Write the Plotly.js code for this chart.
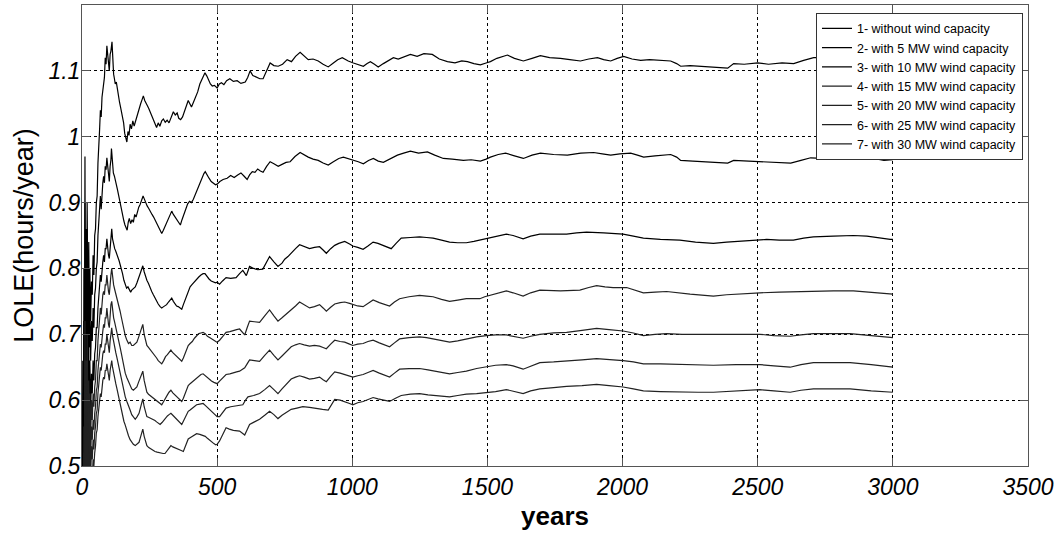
<!DOCTYPE html>
<html><head><meta charset="utf-8">
<script src="https://cdn.plot.ly/plotly-3.0.1.min.js"></script>
<style>html,body{margin:0;padding:0;background:#fff}#chart{width:1054px;height:539px}</style>
</head><body><div id="chart"></div>
<script>
const seriesNames = ["1- without wind capacity","2- with 5 MW wind capacity","3- with 10 MW wind capacity","4- with 15 MW wind capacity","5- with 20 MW wind capacity","6- with 25 MW wind capacity","7- with 30 MW wind capacity"];
const xTicks = [0,500,1000,1500,2000,2500,3000,3500];
const yTicks = [0.5,0.6,0.7,0.8,0.9,1,1.1];
const yTickText = ["0.5","0.6","0.7","0.8","0.9","1","1.1"];

const x1 = [1,3,5,7,9,11,13,15,17,19,21,23,25,27,29,32,35,38,41,44,47,50,53,56,59,62,65,68,71,74,77,80,83,86,89,92,95,98,101,104,107,111,114,117,120,123,127,131,135,139,143,147,151,154,158,162,166,170,174,178,183,188,193,197,202,207,212,217,222,227,232,237,242,247,252,258,264,270,276,282,288,295,301,308,315,322,330,338,345,352,358,365,372,380,387,393,399,405,412,420,428,436,442,449,455,462,468,475,482,490,500,508,516,525,535,547,560,574,588,604,613,622,632,645,658,670,680,689,696,710,726,742,759,775,790,807,822,837,855,874,892,911,930,946,963,985,1004,1022,1041,1055,1067,1082,1096,1115,1135,1152,1170,1192,1215,1240,1265,1296,1322,1352,1380,1405,1426,1450,1474,1495,1511,1535,1555,1574,1600,1633,1665,1696,1730,1770,1805,1844,1875,1907,1930,1956,1980,2004,2035,2067,2100,2140,2178,2200,2215,2250,2289,2340,2389,2411,2450,2500,2540,2590,2633,2670,2707,2741,2780,2830,2880,2930,2970,3000];
const y1 = [0.45,0.66,0.42,0.80,0.58,0.97,0.62,0.86,0.70,0.90,0.78,0.68,0.84,0.74,0.80,0.72,0.78,0.76,0.82,0.79,0.85,0.86,0.90,0.91,0.96,1.00,1.01,1.04,1.03,1.06,1.07,1.08,1.09,1.12,1.11,1.138,1.12,1.105,1.10,1.125,1.13,1.144,1.115,1.095,1.088,1.080,1.083,1.070,1.065,1.052,1.044,1.036,1.028,1.021,1.005,1.000,0.992,1.008,1.002,1.019,1.012,1.024,1.016,1.022,1.030,1.035,1.045,1.050,1.056,1.062,1.055,1.052,1.047,1.043,1.038,1.033,1.026,1.020,1.014,1.021,1.016,1.024,1.027,1.022,1.025,1.021,1.030,1.038,1.033,1.036,1.028,1.026,1.030,1.040,1.048,1.055,1.050,1.045,1.052,1.060,1.068,1.080,1.085,1.090,1.097,1.092,1.085,1.080,1.077,1.078,1.074,1.080,1.082,1.079,1.085,1.088,1.084,1.085,1.081,1.083,1.090,1.100,1.093,1.091,1.088,1.088,1.098,1.105,1.112,1.108,1.107,1.110,1.117,1.114,1.122,1.128,1.122,1.117,1.118,1.115,1.110,1.106,1.112,1.117,1.120,1.115,1.112,1.109,1.107,1.111,1.114,1.110,1.106,1.111,1.116,1.120,1.118,1.122,1.125,1.122,1.126,1.125,1.118,1.114,1.112,1.115,1.114,1.111,1.109,1.112,1.114,1.119,1.121,1.124,1.119,1.115,1.119,1.123,1.120,1.119,1.117,1.115,1.118,1.120,1.117,1.115,1.119,1.122,1.118,1.116,1.117,1.116,1.115,1.111,1.107,1.108,1.107,1.105,1.104,1.111,1.110,1.112,1.110,1.112,1.111,1.116,1.120,1.120,1.122,1.121,1.123,1.121,1.122,1.121];

const x2 = [1,3,5,7,9,11,13,15,17,19,21,23,25,27,29,32,35,38,41,44,47,50,53,56,59,62,65,68,71,74,77,80,83,86,89,92,95,98,101,104,107,109,112,116,120,123,127,131,135,139,143,147,151,155,159,163,167,171,175,180,185,190,195,200,205,210,215,220,226,230,235,241,247,253,259,265,271,277,283,289,295,301,307,313,319,325,332,338,345,352,358,364,370,377,384,391,398,405,412,420,428,436,444,451,456,462,470,478,486,494,500,510,522,537,550,563,576,588,600,611,620,630,640,650,660,670,683,696,710,726,740,755,770,788,807,822,837,855,874,892,911,930,950,967,985,1004,1022,1041,1060,1078,1096,1115,1140,1167,1190,1215,1245,1278,1305,1337,1370,1411,1440,1474,1495,1511,1540,1567,1600,1633,1665,1696,1745,1796,1845,1893,1925,1956,1990,2030,2055,2078,2120,2178,2200,2215,2260,2300,2350,2389,2411,2460,2520,2570,2622,2660,2696,2740,2790,2840,2881,2920,2967,3000];
const y2 = [0.40,0.60,0.38,0.72,0.52,0.90,0.56,0.80,0.64,0.86,0.70,0.62,0.76,0.68,0.74,0.66,0.72,0.69,0.74,0.71,0.76,0.77,0.80,0.81,0.85,0.87,0.88,0.91,0.89,0.92,0.93,0.94,0.93,0.955,0.95,0.968,0.955,0.94,0.932,0.955,0.965,0.982,0.962,0.945,0.940,0.935,0.930,0.920,0.912,0.903,0.895,0.886,0.880,0.872,0.866,0.860,0.858,0.870,0.876,0.868,0.874,0.870,0.882,0.878,0.886,0.893,0.897,0.902,0.910,0.906,0.900,0.895,0.891,0.885,0.882,0.878,0.873,0.869,0.864,0.860,0.853,0.858,0.864,0.868,0.874,0.880,0.887,0.882,0.878,0.874,0.870,0.866,0.874,0.882,0.893,0.898,0.902,0.900,0.905,0.913,0.922,0.930,0.938,0.944,0.947,0.942,0.937,0.932,0.930,0.927,0.928,0.932,0.935,0.937,0.941,0.938,0.942,0.945,0.940,0.935,0.942,0.947,0.946,0.951,0.948,0.946,0.955,0.962,0.959,0.955,0.958,0.961,0.962,0.970,0.976,0.972,0.969,0.966,0.964,0.960,0.957,0.962,0.967,0.969,0.967,0.964,0.962,0.959,0.964,0.967,0.963,0.961,0.966,0.972,0.975,0.978,0.975,0.977,0.972,0.967,0.966,0.964,0.965,0.963,0.966,0.969,0.973,0.975,0.971,0.967,0.972,0.975,0.973,0.972,0.975,0.976,0.974,0.972,0.974,0.975,0.972,0.969,0.971,0.973,0.969,0.964,0.963,0.962,0.961,0.960,0.964,0.963,0.962,0.961,0.960,0.964,0.968,0.967,0.968,0.969,0.970,0.968,0.964,0.965];

const x3 = [1,3,5,7,9,11,13,15,17,19,21,23,25,27,29,32,35,38,41,44,47,50,53,56,59,62,65,68,71,74,77,80,83,86,89,92,95,98,101,104,107,110,113,117,121,125,129,133,137,141,145,150,155,160,165,170,175,180,184,190,197,203,209,215,220,225,230,235,240,246,252,258,264,270,276,282,289,295,302,308,313,320,326,332,338,344,350,356,362,369,375,381,387,393,400,406,412,418,424,432,440,448,455,462,470,478,486,494,500,509,520,533,550,570,583,595,608,620,635,650,669,682,694,710,725,740,750,762,775,790,805,822,842,860,879,892,904,920,935,950,972,990,1002,1020,1040,1058,1077,1095,1114,1130,1144,1162,1181,1215,1249,1275,1299,1330,1360,1390,1422,1450,1472,1490,1509,1540,1570,1595,1632,1660,1694,1740,1793,1830,1867,1930,2002,2040,2077,2140,2212,2270,2336,2385,2435,2485,2533,2580,2632,2670,2706,2780,2854,2904,2950,2990,3000];
const y3 = [0.35,0.52,0.33,0.62,0.46,0.80,0.50,0.72,0.56,0.76,0.62,0.55,0.68,0.60,0.66,0.58,0.64,0.61,0.66,0.63,0.67,0.68,0.71,0.71,0.74,0.76,0.77,0.79,0.78,0.80,0.81,0.82,0.81,0.83,0.83,0.845,0.83,0.82,0.815,0.835,0.845,0.860,0.845,0.835,0.830,0.826,0.822,0.818,0.812,0.806,0.801,0.792,0.782,0.775,0.770,0.772,0.768,0.764,0.767,0.770,0.772,0.778,0.784,0.792,0.798,0.804,0.795,0.788,0.782,0.777,0.770,0.765,0.760,0.755,0.750,0.746,0.742,0.740,0.742,0.744,0.745,0.749,0.752,0.755,0.750,0.746,0.743,0.742,0.740,0.738,0.745,0.752,0.760,0.767,0.772,0.775,0.778,0.781,0.784,0.787,0.790,0.792,0.792,0.788,0.784,0.781,0.779,0.778,0.779,0.776,0.781,0.786,0.785,0.786,0.792,0.797,0.789,0.803,0.800,0.798,0.799,0.810,0.818,0.810,0.803,0.808,0.814,0.818,0.824,0.830,0.836,0.833,0.830,0.832,0.833,0.828,0.823,0.830,0.835,0.838,0.841,0.837,0.834,0.832,0.829,0.834,0.840,0.838,0.835,0.832,0.830,0.838,0.846,0.847,0.848,0.847,0.846,0.843,0.840,0.839,0.839,0.841,0.843,0.845,0.846,0.849,0.852,0.850,0.845,0.849,0.852,0.852,0.852,0.854,0.855,0.854,0.852,0.849,0.846,0.844,0.843,0.840,0.838,0.840,0.841,0.843,0.844,0.843,0.843,0.846,0.848,0.849,0.850,0.849,0.846,0.844,0.844];

const x4 = [1,3,5,7,9,11,13,15,17,19,21,23,25,27,29,32,35,38,41,44,47,50,53,56,59,62,65,68,71,74,77,80,83,86,89,92,95,98,101,104,107,110,113,117,121,125,129,133,137,141,145,150,155,160,165,172,178,184,190,197,203,209,215,220,225,230,235,240,246,252,258,264,270,276,282,289,295,302,309,316,322,329,336,343,350,356,362,369,375,381,387,393,400,408,416,424,432,440,448,456,464,472,479,488,495,500,509,521,533,547,560,572,583,593,602,611,620,638,657,676,694,710,725,740,758,774,790,805,822,842,860,879,892,904,920,935,955,972,990,1002,1020,1040,1058,1077,1100,1120,1138,1156,1175,1210,1249,1275,1299,1330,1360,1390,1422,1450,1472,1490,1509,1540,1570,1595,1632,1660,1694,1770,1842,1875,1904,1935,1965,2015,2045,2077,2120,2163,2250,2336,2385,2450,2508,2580,2657,2706,2780,2854,2920,2970,3000];
const y4 = [0.30,0.47,0.30,0.56,0.42,0.72,0.46,0.66,0.52,0.70,0.58,0.51,0.63,0.56,0.61,0.54,0.60,0.57,0.61,0.59,0.62,0.63,0.66,0.66,0.69,0.71,0.72,0.74,0.73,0.75,0.76,0.765,0.76,0.775,0.775,0.79,0.775,0.765,0.76,0.78,0.79,0.80,0.785,0.775,0.768,0.762,0.757,0.750,0.743,0.735,0.727,0.716,0.705,0.698,0.692,0.686,0.688,0.683,0.683,0.686,0.688,0.695,0.703,0.709,0.715,0.700,0.690,0.683,0.680,0.677,0.674,0.671,0.668,0.664,0.660,0.657,0.655,0.660,0.666,0.669,0.673,0.676,0.672,0.669,0.666,0.663,0.661,0.659,0.664,0.671,0.677,0.683,0.686,0.689,0.694,0.698,0.701,0.702,0.703,0.701,0.697,0.695,0.693,0.690,0.689,0.688,0.691,0.697,0.703,0.704,0.706,0.707,0.708,0.704,0.699,0.710,0.720,0.719,0.718,0.728,0.737,0.728,0.720,0.725,0.731,0.737,0.743,0.749,0.745,0.740,0.742,0.745,0.740,0.735,0.741,0.746,0.748,0.749,0.747,0.745,0.743,0.742,0.747,0.752,0.748,0.745,0.743,0.749,0.754,0.757,0.759,0.758,0.757,0.753,0.750,0.752,0.754,0.754,0.754,0.757,0.759,0.763,0.766,0.763,0.758,0.763,0.767,0.766,0.767,0.771,0.774,0.772,0.771,0.771,0.767,0.763,0.764,0.765,0.761,0.758,0.760,0.762,0.763,0.764,0.765,0.766,0.766,0.766,0.764,0.762,0.761];

const x5 = [1,3,5,7,9,11,13,15,17,19,21,23,25,27,29,32,35,38,41,44,47,50,53,56,59,62,65,68,71,74,77,80,83,86,89,92,95,98,101,104,107,110,113,117,121,125,129,133,137,141,145,150,155,160,166,172,178,184,190,197,203,209,215,220,225,230,235,240,246,252,258,264,270,276,283,289,295,302,309,316,322,329,336,343,350,356,362,369,375,381,387,393,400,408,416,424,432,440,448,456,464,472,479,488,495,500,509,521,533,547,560,572,583,593,602,611,620,638,657,676,694,710,725,740,758,774,790,805,822,842,860,879,892,904,920,935,955,972,990,1002,1020,1040,1058,1077,1100,1120,1138,1156,1175,1210,1249,1275,1299,1330,1360,1390,1422,1460,1496,1530,1570,1595,1632,1660,1694,1745,1793,1850,1904,1950,2002,2040,2077,2120,2163,2220,2286,2400,2508,2560,2620,2660,2706,2780,2842,2920,2990,3000];
const y5 = [0.27,0.43,0.27,0.52,0.39,0.66,0.43,0.61,0.49,0.65,0.54,0.48,0.59,0.53,0.58,0.51,0.56,0.54,0.57,0.555,0.58,0.59,0.615,0.62,0.645,0.66,0.67,0.685,0.68,0.70,0.705,0.715,0.71,0.725,0.725,0.74,0.725,0.715,0.71,0.73,0.745,0.75,0.735,0.725,0.718,0.711,0.705,0.697,0.689,0.680,0.672,0.660,0.649,0.641,0.634,0.628,0.622,0.617,0.615,0.618,0.620,0.627,0.633,0.639,0.644,0.630,0.619,0.612,0.609,0.607,0.605,0.602,0.600,0.598,0.596,0.594,0.593,0.598,0.604,0.608,0.612,0.615,0.611,0.608,0.605,0.602,0.600,0.598,0.603,0.610,0.617,0.622,0.625,0.628,0.631,0.634,0.637,0.639,0.640,0.637,0.634,0.631,0.629,0.627,0.626,0.625,0.629,0.634,0.639,0.640,0.642,0.643,0.644,0.647,0.649,0.655,0.661,0.660,0.659,0.668,0.676,0.668,0.661,0.667,0.674,0.681,0.684,0.686,0.684,0.682,0.683,0.682,0.680,0.678,0.685,0.691,0.689,0.688,0.685,0.683,0.685,0.686,0.689,0.691,0.687,0.684,0.681,0.687,0.693,0.695,0.696,0.695,0.693,0.690,0.688,0.690,0.693,0.696,0.698,0.699,0.699,0.697,0.694,0.697,0.700,0.702,0.703,0.706,0.709,0.707,0.705,0.702,0.698,0.700,0.701,0.700,0.700,0.700,0.700,0.698,0.697,0.699,0.701,0.701,0.701,0.698,0.695,0.695];

const x6 = [1,3,5,7,9,11,13,15,17,19,21,23,25,27,29,32,35,38,41,44,47,50,53,56,59,62,65,68,71,74,77,80,83,86,89,92,95,98,101,104,107,110,113,117,121,125,129,133,137,141,145,150,155,160,166,172,178,184,190,197,204,211,216,221,225,230,235,240,246,252,258,264,270,276,282,289,296,303,310,316,322,329,336,343,350,356,362,369,375,381,387,393,400,408,416,424,436,448,456,464,472,479,488,495,500,509,521,533,550,565,580,595,605,614,635,657,676,694,710,725,740,758,774,790,805,822,842,860,879,892,904,920,935,955,972,990,1002,1020,1040,1058,1077,1100,1120,1138,1156,1175,1210,1249,1280,1311,1335,1360,1390,1422,1460,1496,1530,1570,1595,1632,1660,1694,1745,1793,1850,1904,1950,2002,2040,2077,2140,2212,2280,2336,2420,2508,2560,2620,2660,2706,2780,2842,2920,2990,3000];
const y6 = [0.24,0.40,0.25,0.49,0.36,0.62,0.40,0.57,0.46,0.61,0.51,0.45,0.55,0.50,0.54,0.48,0.53,0.51,0.54,0.525,0.55,0.56,0.58,0.585,0.61,0.625,0.635,0.65,0.645,0.66,0.67,0.675,0.672,0.685,0.685,0.70,0.688,0.678,0.672,0.69,0.70,0.71,0.698,0.688,0.680,0.672,0.665,0.657,0.649,0.641,0.633,0.622,0.612,0.605,0.598,0.590,0.585,0.578,0.574,0.571,0.575,0.580,0.588,0.596,0.602,0.590,0.581,0.575,0.574,0.573,0.572,0.571,0.569,0.567,0.565,0.563,0.566,0.570,0.573,0.576,0.578,0.580,0.577,0.574,0.571,0.568,0.565,0.563,0.568,0.574,0.579,0.583,0.585,0.588,0.591,0.593,0.594,0.595,0.592,0.589,0.586,0.583,0.580,0.577,0.575,0.575,0.582,0.588,0.590,0.591,0.592,0.593,0.600,0.605,0.607,0.610,0.616,0.622,0.616,0.610,0.617,0.625,0.632,0.635,0.637,0.635,0.632,0.633,0.635,0.631,0.628,0.636,0.643,0.641,0.639,0.637,0.635,0.637,0.639,0.642,0.645,0.641,0.638,0.635,0.641,0.647,0.648,0.648,0.646,0.644,0.642,0.640,0.642,0.644,0.648,0.651,0.653,0.654,0.652,0.647,0.652,0.657,0.658,0.659,0.661,0.663,0.662,0.660,0.658,0.655,0.655,0.654,0.653,0.653,0.654,0.654,0.652,0.650,0.654,0.657,0.657,0.657,0.654,0.650,0.650];

const x7 = [1,3,5,7,9,11,13,15,17,19,21,23,25,27,29,32,35,38,41,44,47,50,53,56,59,62,65,68,71,74,77,80,83,86,89,92,95,98,101,104,107,110,113,117,121,125,129,133,137,141,145,150,155,160,166,172,178,184,190,197,204,211,216,221,225,230,235,240,247,254,262,270,278,286,294,300,307,314,320,329,336,343,350,356,365,375,381,387,393,400,408,416,424,436,448,456,464,472,479,488,495,500,509,521,533,545,560,583,593,602,611,620,638,657,676,694,710,725,740,758,774,795,817,842,867,890,911,923,935,955,972,990,1002,1020,1040,1058,1077,1095,1114,1138,1160,1181,1215,1249,1280,1311,1335,1360,1390,1422,1460,1496,1530,1570,1595,1632,1660,1694,1745,1793,1850,1904,1950,2002,2040,2077,2140,2212,2280,2336,2420,2508,2560,2620,2660,2706,2780,2842,2920,2990,3000];
const y7 = [0.22,0.37,0.23,0.46,0.34,0.58,0.38,0.54,0.44,0.57,0.48,0.43,0.52,0.47,0.51,0.46,0.50,0.48,0.51,0.50,0.52,0.53,0.55,0.555,0.575,0.59,0.60,0.61,0.605,0.62,0.63,0.635,0.632,0.645,0.645,0.655,0.645,0.635,0.63,0.645,0.655,0.66,0.65,0.64,0.632,0.625,0.618,0.610,0.602,0.594,0.586,0.576,0.568,0.562,0.553,0.546,0.540,0.536,0.533,0.531,0.533,0.536,0.543,0.550,0.556,0.545,0.537,0.531,0.528,0.526,0.524,0.522,0.521,0.520,0.520,0.519,0.519,0.523,0.527,0.531,0.529,0.528,0.527,0.526,0.524,0.522,0.528,0.535,0.541,0.543,0.545,0.547,0.549,0.548,0.546,0.545,0.542,0.539,0.536,0.534,0.532,0.533,0.538,0.548,0.558,0.556,0.554,0.553,0.550,0.547,0.555,0.563,0.567,0.571,0.577,0.583,0.578,0.572,0.577,0.582,0.586,0.588,0.590,0.589,0.588,0.586,0.585,0.593,0.601,0.600,0.598,0.595,0.593,0.596,0.598,0.601,0.604,0.602,0.600,0.598,0.603,0.607,0.609,0.610,0.608,0.607,0.606,0.605,0.607,0.609,0.610,0.611,0.613,0.616,0.614,0.610,0.614,0.617,0.619,0.621,0.622,0.624,0.622,0.620,0.617,0.614,0.613,0.612,0.612,0.612,0.614,0.616,0.614,0.612,0.615,0.617,0.617,0.617,0.614,0.612,0.612];

const xs = [x1,x2,x3,x4,x5,x6,x7];
const ys = [y1,y2,y3,y4,y5,y6,y7];
const traces = xs.map((x,i)=>({
  x: x, y: ys[i], type:'scatter', mode:'lines', name: seriesNames[i],
  line:{color: i<3 ? '#000000' : '#222222', width:1.2}
}));

const axisCommon = {
  showgrid:true, gridcolor:'#000000', gridwidth:1, griddash:'3px,3px',
  showline:true, linecolor:'#555555', linewidth:1, mirror:'ticks',
  ticks:'inside', ticklen:8, tickcolor:'#555555', zeroline:false,
  tickfont:{family:'Arial, Liberation Sans, sans-serif', size:23, style:'italic', color:'#000'}
};

const layout = {
  width:1054, height:539,
  margin:{l:82, r:26, t:5, b:73, pad:0},
  paper_bgcolor:'#ffffff', plot_bgcolor:'#ffffff',
  showlegend:true,
  legend:{x:0.9947, xanchor:'right', y:0.983, yanchor:'top', bgcolor:'#ffffff',
    bordercolor:'#333333', borderwidth:1, font:{family:'Arial, Liberation Sans, sans-serif', size:12.5, color:'#000'},
    tracegroupgap:0},
  xaxis: Object.assign({}, axisCommon, {range:[0,3500], tickmode:'array', tickvals:xTicks,
    title:{text:'years', font:{family:'Arial, Liberation Sans, sans-serif', size:26, weight:'bold', color:'#000'}, standoff:8}}),
  yaxis: Object.assign({}, axisCommon, {range:[0.5,1.2], tickmode:'array', tickvals:yTicks, ticktext:yTickText,
    ticklabelstandoff:-4,
    title:{text:'LOLE(hours/year)', font:{family:'Arial, Liberation Sans, sans-serif', size:27, color:'#000'}, standoff:6}})
};

Plotly.newPlot('chart', traces, layout, {displayModeBar:false, staticPlot:true});
</script>
</body></html>
